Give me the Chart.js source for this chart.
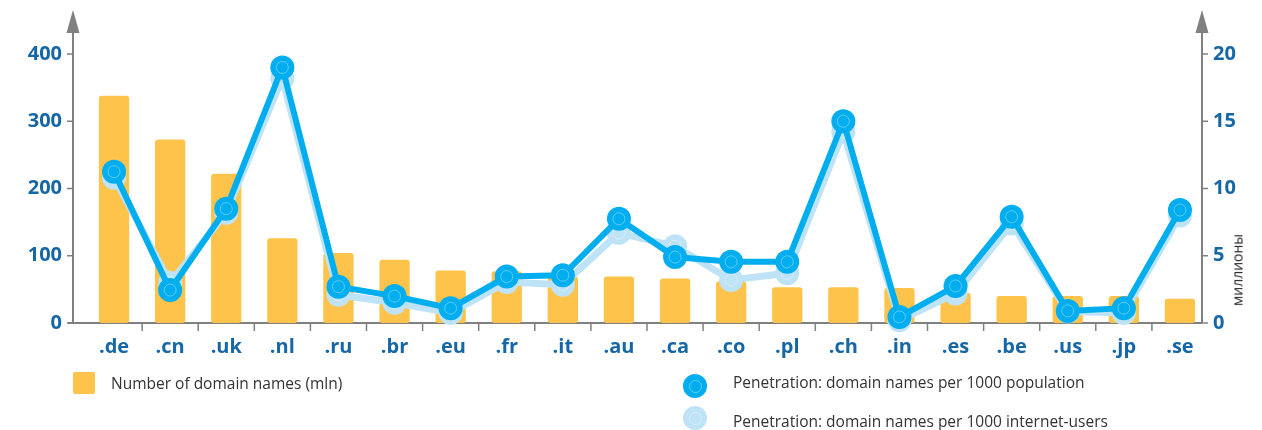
<!DOCTYPE html>
<html>
<head>
<meta charset="utf-8">
<script src="https://cdn.jsdelivr.net/npm/chart.js@4.4.1/dist/chart.umd.min.js"></script>
<style>
  html, body { margin: 0; padding: 0; background: #fff; }
  #wrap { position: relative; width: 1262px; height: 430px; overflow: hidden; }
  #chart { position: absolute; left: 0; top: 0; }
  .lg-text { position: absolute; font-family: "Open Sans", sans-serif; font-size: 15.5px; color: #333; white-space: nowrap; line-height: 20px; }
  .lg-box { position: absolute; background: #FEC34B; border-radius: 2px; }
  .lg-dot { position: absolute; width: 24px; height: 24px; border-radius: 50%; }
  .lg-dot::after { content: ''; position: absolute; left: 6px; top: 6px; width: 11px; height: 11px; border-radius: 50%; border: 1px solid rgba(255,255,255,0.35); }
  #unit { position: absolute; left: 1237px; top: 270px; transform: translate(-50%, -50%) rotate(-90deg); font-family: "Open Sans", sans-serif; font-size: 14px; color: #222; white-space: nowrap; }
</style>
</head>
<body>
<div id="wrap">
  <canvas id="chart" width="1262" height="430"></canvas>
  <div class="lg-box" style="left:73px;top:372px;width:22px;height:22px"></div>
  <div class="lg-text" style="left:111px;top:373px">Number of domain names (mln)</div>
  <div class="lg-dot" style="left:683px;top:374px;background:#00AEEF"></div>
  <div class="lg-text" style="left:733px;top:372px">Penetration: domain names per 1000 population</div>
  <div class="lg-dot" style="left:683px;top:406px;background:#BEE3F6"></div>
  <div class="lg-text" style="left:733px;top:411px">Penetration: domain names per 1000 internet-users</div>
  <div id="unit">миллионы</div>
</div>
<script>
// ── Données ───────────────────────────────────────────────
const zones = ['.de', '.cn', '.uk', '.nl', '.ru', '.br', '.eu', '.fr', '.it', '.au',
               '.ca', '.co', '.pl', '.ch', '.in', '.es', '.be', '.us', '.jp', '.se'];
const domainCount  = [338, 273, 222, 126, 104, 94, 78, 77, 69, 69,
                      66, 62, 53, 53, 52, 45, 40, 40, 40, 36];
const perPopulation = [11.25, 2.45, 8.5, 19.0, 2.7, 2.0, 1.1, 3.45, 3.55, 7.75,
                       4.9, 4.55, 4.55, 15.0, 0.45, 2.75, 7.9, 0.9, 1.1, 8.4];
const perUsers      = [10.8, 3.0, 8.2, 18.2, 2.1, 1.5, 0.75, 3.05, 2.85, 6.7,
                       5.7, 3.2, 3.7, 14.2, 0.2, 2.2, 7.4, 0.85, 0.75, 8.0];
const leftTicks  = [0, 100, 200, 300, 400];
const rightTicks = [0, 5, 10, 15, 20];

const BLUE_TXT = '#1667A6';
const AXIS_GREY = '#808080';

// ── Axes fléchés + anneaux des points ─────────────────────
const axesPlugin = {
    id: 'axes',
    beforeDatasetsDraw(chart) {
        const { ctx, chartArea: a, scales } = chart;
        const lx = a.left - 13, rx = a.right - 6;
        ctx.save();
        ctx.strokeStyle = AXIS_GREY;
        ctx.fillStyle = AXIS_GREY;
        ctx.lineWidth = 2;
        // x axis
        ctx.beginPath();
        ctx.moveTo(lx - 5, a.bottom); ctx.lineTo(rx, a.bottom);
        ctx.stroke();
        // separators
        ctx.lineWidth = 1.5;
        for (let i = 1; i < zones.length; i++) {
            const x = (scales.x.getPixelForValue(i - 1) + scales.x.getPixelForValue(i)) / 2;
            ctx.beginPath(); ctx.moveTo(x, a.bottom); ctx.lineTo(x, a.bottom + 8); ctx.stroke();
        }
        // vertical axes
        ctx.lineWidth = 2;
        [lx, rx].forEach(x => {
            ctx.beginPath(); ctx.moveTo(x, a.bottom); ctx.lineTo(x, 28); ctx.stroke();
            ctx.beginPath(); ctx.moveTo(x, 10); ctx.lineTo(x + 6.5, 33); ctx.lineTo(x - 6.5, 33); ctx.closePath(); ctx.fill();
        });
        ctx.lineWidth = 1.5;
        leftTicks.forEach(v => {
            const y = scales.y.getPixelForValue(v);
            ctx.beginPath(); ctx.moveTo(lx - 6, y); ctx.lineTo(lx, y); ctx.stroke();
        });
        rightTicks.forEach(v => {
            const y = scales.y1.getPixelForValue(v);
            ctx.beginPath(); ctx.moveTo(rx, y); ctx.lineTo(rx + 6, y); ctx.stroke();
        });
        ctx.restore();
    },
    // anneau clair dans chaque point, juste après son propre dataset
    afterDatasetDraw(chart, args) {
        if (args.index > 1) return;
        const { ctx } = chart;
        ctx.save();
        ctx.strokeStyle = 'rgba(255,255,255,0.35)';
        ctx.lineWidth = 1;
        args.meta.data.forEach(p => {
            ctx.beginPath(); ctx.arc(p.x, p.y, 6, 0, Math.PI * 2); ctx.stroke();
        });
        ctx.restore();
    }
};

new Chart(document.getElementById('chart'), {
    data: {
        labels: zones,
        datasets: [
            {
                type: 'line',
                label: 'Penetration: domain names per 1000 population',
                data: perPopulation,
                yAxisID: 'y1',
                borderColor: '#00AEEF',
                backgroundColor: '#00AEEF',
                borderWidth: 6,
                pointRadius: 12,
                pointBorderWidth: 0,
                tension: 0,
                clip: false,
                order: 1,
            },
            {
                type: 'line',
                label: 'Penetration: domain names per 1000 internet-users',
                data: perUsers,
                yAxisID: 'y1',
                borderColor: '#BEE3F6',
                backgroundColor: '#BEE3F6',
                borderWidth: 7,
                pointRadius: 12,
                pointBorderWidth: 0,
                tension: 0,
                clip: false,
                order: 2,
            },
            {
                type: 'bar',
                label: 'Number of domain names (mln)',
                data: domainCount,
                yAxisID: 'y',
                backgroundColor: '#FEC34B',
                borderRadius: 3,
                borderSkipped: false,
                barPercentage: 0.54,
                categoryPercentage: 1,
                order: 3,
            },
        ],
    },
    options: {
        responsive: false,
        animation: false,
        events: [],
        layout: { padding: { top: 54, bottom: 67, left: 0, right: 0 } },
        plugins: { legend: { display: false }, tooltip: { enabled: false } },
        scales: {
            x: {
                grid: { display: false, drawTicks: false },
                border: { display: false },
                afterFit: s => { s.height = 40; },
                ticks: {
                    padding: 12,
                    color: BLUE_TXT,
                    font: { family: 'Open Sans', size: 20, weight: 'bold' },
                },
            },
            y: {
                position: 'left',
                min: 0, max: 400,
                afterFit: s => { s.width = 86; },
                grid: { display: false, drawTicks: false },
                border: { display: false },
                ticks: {
                    stepSize: 100,
                    padding: 24,
                    color: BLUE_TXT,
                    font: { family: 'Open Sans', size: 20, weight: 'bold' },
                },
            },
            y1: {
                position: 'right',
                min: 0, max: 20,
                afterFit: s => { s.width = 54; },
                grid: { display: false, drawTicks: false },
                border: { display: false },
                ticks: {
                    stepSize: 5,
                    padding: 5,
                    color: BLUE_TXT,
                    font: { family: 'Open Sans', size: 20, weight: 'bold' },
                },
            },
        },
    },
    plugins: [axesPlugin],
});
</script>
</body>
</html>
